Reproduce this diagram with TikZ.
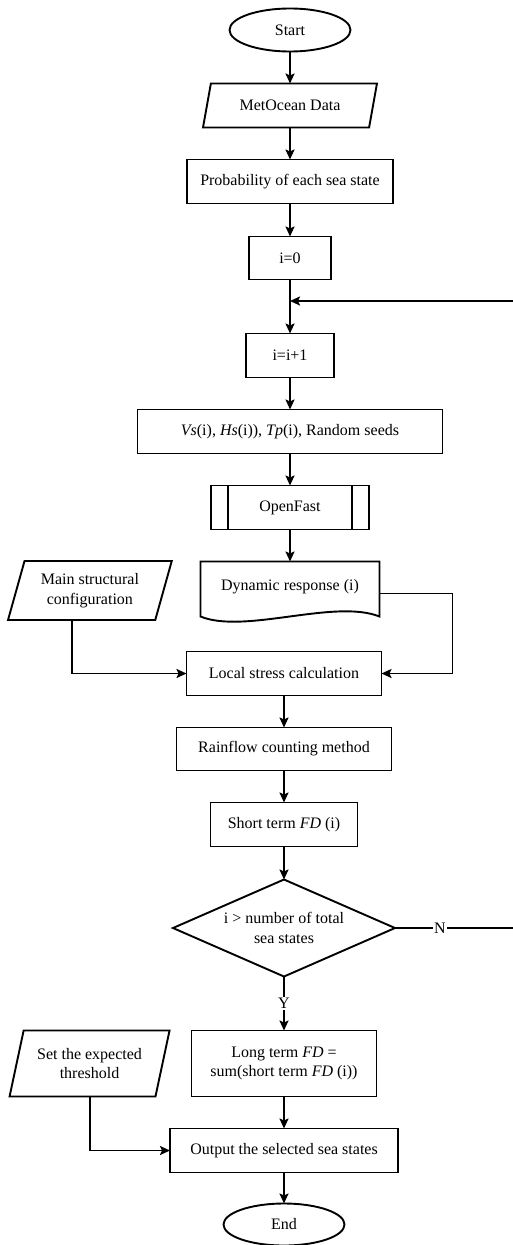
\documentclass[tikz,border=0pt]{standalone}
\usepackage{fontspec}
\setmainfont{Liberation Serif}
\usetikzlibrary{shapes.geometric, arrows.meta, positioning}

\begin{document}
\begin{tikzpicture}[x=1pt, y=-1pt, font=\fontsize{16}{19.5}\selectfont, node distance=32pt,
  line width=1.9pt, every node/.style={outer sep=0pt},
  p/.style={rectangle, draw, minimum height=44pt, inner sep=2pt, align=center},
  t/.style={ellipse, draw, minimum width=121pt, minimum height=43pt, inner sep=0pt},
  io/.style={trapezium, trapezium stretches=true, trapezium left angle=70,
             trapezium right angle=110, draw, inner sep=0pt, align=center},
  dec/.style={diamond, draw, aspect=2.3, minimum width=222pt, minimum height=97pt,
              inner sep=0pt, align=center},
  lbl/.style={fill=white, inner sep=1pt},
  a/.style={-{Stealth[length=10pt, width=9pt, inset=2pt]}}]
  \useasboundingbox[fill=white] (0,0) rectangle (513,1245);
  \node[t] (start) at (290,30) {Start};
  \node[io, trapezium left angle=65, trapezium right angle=115, minimum width=174pt,
        minimum height=44pt, below=of start] (met) {MetOcean Data};
  \node[p, minimum width=206pt, below=of met] (prob) {Probability of each sea state};
  \node[p, minimum width=82pt, minimum height=43pt, below=33pt of prob] (i0) {i=0};
  \node[p, minimum width=88pt, below=54pt of i0] (inc) {i=i+1};
  \node[p, minimum width=305pt, below=of inc] (vs) {\textit{Vs}(i), \textit{Hs}(i)), \textit{Tp}(i), Random seeds};
  \node[p, minimum width=158pt, below=of vs] (fast) {OpenFast};
  \node[minimum width=179pt, minimum height=50pt, inner sep=0pt, below=of fast] (dyn) {Dynamic response (i)};
  \node[io, minimum width=164pt, minimum height=59pt, left=37pt of dyn, yshift=-4pt] (msc) {Main structural\\configuration};
  \node[p, minimum width=195pt, below=40pt of dyn, xshift=-6pt] (local) {Local stress calculation};
  \node[p, minimum width=215pt, minimum height=43pt, below=of local] (rain) {Rainflow counting method};
  \node[p, minimum width=147pt, below=of rain] (short) {Short term \textit{FD} (i)};
  \node[dec, below=33pt of short] (chk) {i > number of total\\sea states};
  \node[p, minimum width=185pt, minimum height=66pt, below=54pt of chk] (long) {Long term \textit{FD} =\\sum(short term \textit{FD} (i))};
  \node[io, minimum width=160pt, minimum height=66pt, left=29pt of long] (thr) {Set the expected\\threshold};
  \node[p, minimum width=228pt, below=of long] (out) {Output the selected sea states};
  \node[t, minimum height=42pt, below=31pt of out] (end) {End};
  \coordinate (loop) at (i0.south |- 0,301);
  \coordinate (back) at (513,301);
  \coordinate (no) at (chk.east -| 513,0);
  \draw (dyn.north west) -- (dyn.north east) -- ([yshift=-5pt]dyn.south east)
    .. controls +(-45,-18) and +(44,18) .. ([yshift=-5pt]dyn.south west) -- cycle;
  \draw ([xshift=17pt]fast.north west) -- ([xshift=17pt]fast.south west);
  \draw ([xshift=-17pt]fast.north east) -- ([xshift=-17pt]fast.south east);
  \draw[a] (start) -- (met);
  \draw[a] (met) -- (prob);
  \draw[a] (prob) -- (i0);
  \draw[a] (i0) -- (inc);
  \draw[a] (back) -- (loop);
  \draw[a] (inc) -- (vs);
  \draw[a] (vs) -- (fast);
  \draw[a] (fast) -- (dyn);
  \draw[a] ([yshift=-7pt]dyn.east) -- ++(73,0) |- (local.east);
  \draw[a] ([xshift=-18pt]msc.south) |- (local.west);
  \draw[a] (local) -- (rain);
  \draw[a] (rain) -- (short);
  \draw[a] (short) -- (chk);
  \draw[a] (chk) -- node[lbl]{Y} (long);
  \draw (chk.east) -- node[lbl, pos=0.38]{N} (no);
  \draw[a] (long) -- (out);
  \draw[a] (thr.south) |- (out.west);
  \draw[a] (out) -- (end);
\end{tikzpicture}
\end{document}
